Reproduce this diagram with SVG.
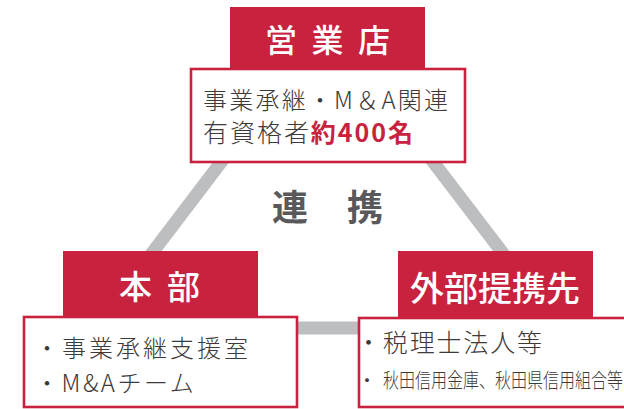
<svg xmlns="http://www.w3.org/2000/svg" width="624" height="409" viewBox="0 0 624 409">
<style>
.hdr{fill:#c9223f}
.box{fill:#fff;stroke:#c9223f;stroke-width:2.6}
.ht{fill:#fff;font-family:"Noto Sans CJK JP","Noto Sans",sans-serif;font-weight:500}
.bt{fill:#3e3a39;font-family:"Noto Sans CJK JP","Noto Sans",sans-serif;font-weight:300}
.red{fill:#c9223f;font-weight:700}
.link{fill:none;stroke:#bcbec0;stroke-width:13;stroke-linejoin:miter}
</style>
<g id="connectors">
<polygon class="link" points="327,23 95,328 560,328"/>
<text x="272" y="221" font-size="36" font-weight="700" fill="#59595b" font-family="Noto Sans CJK JP,sans-serif" textLength="111" lengthAdjust="spacing">連　携</text>
</g>
<g id="eigyoten">
<rect class="hdr" x="230" y="7" width="195" height="62"/>
<rect class="box" x="191" y="69" width="274" height="93"/>
<text class="ht" x="265" y="52" font-size="32" textLength="125" lengthAdjust="spacing">営業店</text>
<text class="bt" x="203" y="109" font-size="24" textLength="245" lengthAdjust="spacing">事業承継・M＆A関連</text>
<text class="bt" x="203" y="142" font-size="25" textLength="210" lengthAdjust="spacing">有資格者<tspan class="red">約400名</tspan></text>
</g>
<g id="honbu">
<rect class="hdr" x="63" y="251" width="195" height="66"/>
<rect class="box" x="24" y="317" width="273" height="90"/>
<text class="ht" x="119" y="298.5" font-size="33" textLength="81" lengthAdjust="spacing">本部</text>
<text class="bt" x="35" y="357" font-size="24" textLength="213" lengthAdjust="spacing">・事業承継支援室</text>
<text class="bt" x="35" y="392" font-size="24" letter-spacing="2.5">・M&amp;Aチーム</text>
</g>
<g id="gaibu">
<rect class="hdr" x="398" y="251" width="195" height="67"/>
<rect class="box" x="359" y="318" width="280" height="89"/>
<text class="ht" x="410" y="301" font-size="34" textLength="170" lengthAdjust="spacing">外部提携先</text>
<text class="bt" x="356" y="352" font-size="25" textLength="186" lengthAdjust="spacing">・税理士法人等</text>
<text class="bt" x="357" y="388" font-size="20">・</text>
<text class="bt" x="383" y="388" font-size="20" textLength="240" lengthAdjust="spacingAndGlyphs">秋田信用金庫、秋田県信用組合等</text>
</g>
</svg>
